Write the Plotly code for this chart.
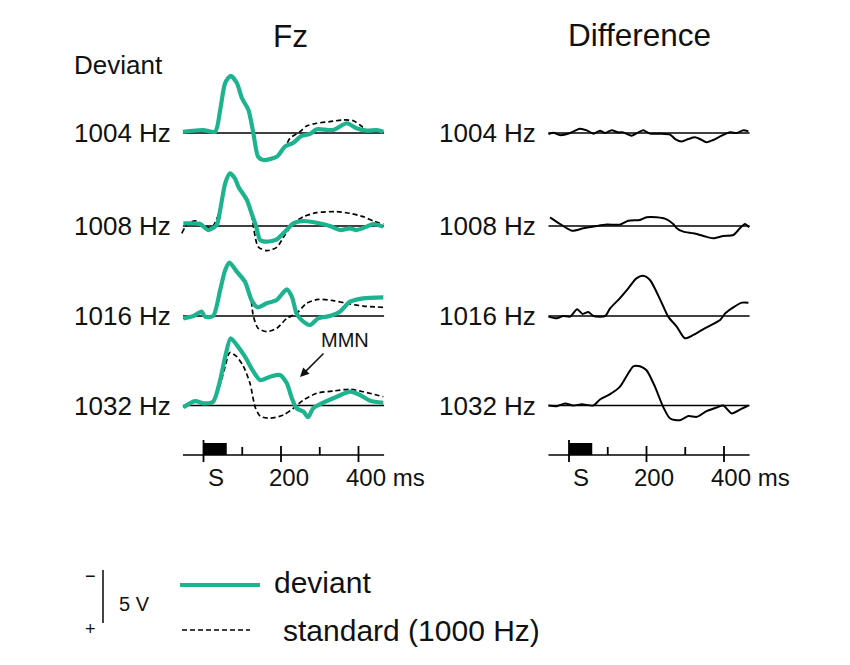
import plotly.graph_objects as go

PAGE_W, PAGE_H = 850, 665
BODY_MARGIN = 8
W, H = PAGE_W - 2 * BODY_MARGIN, PAGE_H - 2 * BODY_MARGIN
FONT = "Liberation Sans, Arial, sans-serif"
TEAL = "#1db38f"
DASH = "5px,3px"

# ---------------- data (µV, negative = up; time in ms) ----------------
ROW_LABELS = ["1004 Hz", "1008 Hz", "1016 Hz", "1032 Hz"]
TIME_TICKS = [0, 100, 200, 300, 400]
MAJOR_TICKS = [0, 200, 400]
STIM_DUR = 60

DEV_1004_T = [-53, -1, 30, 43, 56, 70, 86, 99, 116, 128, 141, 154, 189, 210, 231, 253, 275, 292, 334, 370, 395, 421, 447, 464]
DEV_1004_V = [-0.12, -0.28, -0.12, -2.17, -4.72, -5.38, -4.72, -3.3, -2.17, -0.12, 2.24, 2.55, 2.24, 1.29, 0.94, 0.28, 0.09, -0.35, -0.28, -0.92, -0.44, -0.22, -0.28, -0.12]
STD_1004_T = [-53, -1, 30, 43, 56, 70, 86, 99, 116, 128, 141, 154, 189, 210, 223, 249, 266, 292, 326, 361, 387, 404, 421, 447, 464]
STD_1004_V = [-0.12, -0.28, -0.12, -2.17, -4.72, -5.38, -4.72, -3.3, -2.17, -0.12, 2.3, 2.5, 2.2, 1.4, 0.5, -0.12, -0.66, -0.92, -1.07, -1.23, -1.16, -0.75, -0.28, -0.28, -0.12]

DEV_1008_T = [-52, -9, 12, 34, 43, 56, 68, 81, 90, 112, 124, 136, 146, 163, 189, 210, 232, 258, 292, 326, 352, 378, 395, 421, 438, 464]
DEV_1008_V = [-0.25, -0.19, 0.38, -0.09, -1.5, -4.03, -4.97, -4.5, -3.71, -2.45, -1.2, 0.06, 1.32, 1.48, 1.26, 0.54, -0.25, -0.47, -0.31, 0, 0.38, 0.22, 0.38, 0.06, -0.19, 0.06]
STD_1008_T = [-56, -39, -18, 0, 20, 43, 56, 68, 81, 90, 112, 124, 141, 163, 189, 210, 232, 258, 292, 344, 378, 412, 438, 464]
STD_1008_V = [0.69, -0.31, -0.47, -0.09, 0.2, -1.5, -4.03, -4.97, -4.5, -3.71, -2.45, -1.0, 1.95, 2.33, 2.01, 0.85, -0.25, -0.88, -1.26, -1.35, -1.2, -0.88, -0.47, -0.19]

DEV_1016_T = [-52, -26, -5, 4, 25, 43, 56, 67, 86, 107, 124, 139, 163, 189, 215, 228, 240, 253, 275, 296, 326, 352, 378, 412, 464]
DEV_1016_V = [0.22, 0, -0.41, 0.06, 0, -2.45, -4.34, -5.03, -4.18, -3.24, -1.51, -0.82, -1.2, -1.51, -2.52, -1.82, -0.25, 0.38, 0.85, 0.22, 0, -0.41, -1.35, -1.67, -1.76]
STD_1016_T = [-52, -26, -5, 4, 25, 43, 56, 67, 86, 107, 120, 129, 141, 163, 189, 215, 240, 266, 296, 335, 378, 412, 464]
STD_1016_V = [0.22, 0, -0.41, 0.06, 0, -2.45, -4.34, -5.03, -4.18, -3.24, -2.14, 0.06, 1.16, 1.48, 1.16, 0.22, -0.25, -1.2, -1.57, -1.45, -1.13, -0.94, -0.82]

DEV_1032_T = [-52, -22, 0, 25, 43, 56, 70, 86, 107, 129, 146, 172, 197, 215, 228, 240, 258, 270, 283, 309, 344, 378, 404, 430, 464]
DEV_1032_V = [0.17, -0.42, -0.2, -0.36, -2.4, -4.6, -6.34, -5.7, -4.6, -3.19, -2.4, -2.72, -2.88, -2.09, -0.68, 0.26, 0.58, 1.11, 0.26, -0.26, -0.83, -1.3, -0.99, -0.45, -0.26]
STD_1032_T = [-52, -22, 0, 25, 43, 56, 68, 86, 103, 120, 133, 146, 172, 206, 232, 258, 292, 335, 378, 412, 464]
STD_1032_V = [0.17, -0.42, -0.2, -0.36, -2.0, -3.7, -5.0, -4.6, -3.7, -2.09, 0.11, 1.0, 1.2, 0.9, 0.26, -0.52, -1.15, -1.37, -1.53, -1.3, -0.83]

DIF_1004_T = [-53, -40, -23, 3, 28, 46, 63, 80, 93, 110, 127, 140, 162, 179, 192, 209, 235, 261, 274, 291, 308, 325, 338, 355, 372, 394, 416, 433, 450, 463]
DIF_1004_V = [0.1, -0.03, 0.2, 0, -0.4, -0.25, 0.06, -0.22, 0, -0.25, -0.06, -0.06, 0.25, -0.06, -0.25, 0.06, 0.06, 0.15, 0.57, 0.8, 0.57, 0.4, 0.57, 0.88, 0.66, 0.25, -0.06, 0, -0.25, -0.15]
DIF_1008_T = [-49, -23, 7, 37, 71, 97, 131, 153, 183, 200, 226, 252, 269, 278, 295, 321, 347, 372, 398, 424, 441, 454, 465]
DIF_1008_V = [-0.82, -0.19, 0.44, 0.22, 0, -0.13, -0.13, -0.5, -0.57, -0.82, -0.82, -0.63, -0.19, 0.22, 0.53, 0.69, 0.94, 1.16, 0.94, 0.85, 0.22, -0.19, 0.13]
DIF_1016_T = [-53, -32, -15, 3, 21, 35, 50, 63, 93, 106, 131, 153, 174, 191, 209, 235, 256, 278, 299, 321, 355, 390, 403, 424, 446, 463]
DIF_1016_V = [0.06, 0.22, 0, 0.06, -0.63, -0.19, -0.38, 0, 0, -0.72, -1.67, -2.61, -3.55, -3.8, -3.4, -1.57, 0.06, 1.0, 2.1, 1.79, 1.07, 0.38, -0.25, -0.82, -1.26, -1.26]
DIF_1032_T = [-53, -32, -10, 11, 33, 63, 80, 106, 131, 150, 166, 183, 200, 222, 243, 261, 286, 308, 330, 355, 381, 398, 420, 441, 463]
DIF_1032_V = [0, 0.06, -0.19, 0, -0.12, 0, -0.57, -1.07, -1.76, -2.86, -3.7, -3.7, -3.33, -1.76, 0.13, 1.23, 1.39, 1.0, 1.07, 0.54, 0.19, 0, 0.75, 0.38, 0]

DEV_T = [DEV_1004_T, DEV_1008_T, DEV_1016_T, DEV_1032_T]
DEV_V = [DEV_1004_V, DEV_1008_V, DEV_1016_V, DEV_1032_V]
STD_T = [STD_1004_T, STD_1008_T, STD_1016_T, STD_1032_T]
STD_V = [STD_1004_V, STD_1008_V, STD_1016_V, STD_1032_V]
DIF_T = [DIF_1004_T, DIF_1008_T, DIF_1016_T, DIF_1032_T]
DIF_V = [DIF_1004_V, DIF_1008_V, DIF_1016_V, DIF_1032_V]

# ---------------- layout geometry (page pixels) ----------------
PX_PER_UV = 10.6
PX_PER_MS = 0.3875
LEFT_ZERO_PX, RIGHT_ZERO_PX = 203.5, 569
SPLIT_PX = 425
ROW_ZERO_PX = [133, 226, 316, 405.5]
AXIS_PX = 455
T_START, T_END = -53, 466


def uv(p):  # page pixel row -> value on the shared µV axis
    return (p - BODY_MARGIN) / PX_PER_UV


def px(x):  # page pixel column -> paper fraction
    return (x - BODY_MARGIN) / W


def py(y):
    return 1 - (y - BODY_MARGIN) / H


ROW_ZERO = [uv(p) for p in ROW_ZERO_PX]
AXIS_Y = uv(AXIS_PX)
SPLIT = px(SPLIT_PX)

fig = go.Figure()
shapes = []
annotations = []
smooth = dict(shape="spline", smoothing=0.7)

for i in range(4):
    z = ROW_ZERO[i]
    for xr in ("x", "x2"):
        shapes.append(dict(type="line", xref=xr, yref="y", x0=T_START, x1=T_END, y0=z, y1=z,
                           line=dict(color="black", width=1.5), layer="below"))
    fig.add_trace(go.Scatter(x=STD_T[i], y=[z + v for v in STD_V[i]], xaxis="x", yaxis="y", mode="lines",
                             line=dict(color="black", width=1.7, dash=DASH, **smooth), hoverinfo="skip"))
    fig.add_trace(go.Scatter(x=DEV_T[i], y=[z + v for v in DEV_V[i]], xaxis="x", yaxis="y", mode="lines",
                             line=dict(color=TEAL, width=4.2, **smooth), hoverinfo="skip"))
    fig.add_trace(go.Scatter(x=DIF_T[i], y=[z + v for v in DIF_V[i]], xaxis="x2", yaxis="y", mode="lines",
                             line=dict(color="black", width=2, **smooth), hoverinfo="skip"))
    for xr in ("x", "x2"):
        annotations.append(dict(xref=xr, yref="y", x=-80, y=z, text=ROW_LABELS[i], showarrow=False,
                                xanchor="right", yanchor="middle", font=dict(size=26, color="#111", family=FONT)))

# time axes
tick_font = dict(size=24, color="#111", family=FONT)
for xr in ("x", "x2"):
    shapes.append(dict(type="line", xref=xr, yref="y", x0=T_START, x1=T_END, y0=AXIS_Y, y1=AXIS_Y,
                       line=dict(color="black", width=1.6)))
    shapes.append(dict(type="rect", xref=xr, yref="y", x0=0, x1=STIM_DUR, y0=uv(443), y1=AXIS_Y,
                       fillcolor="black", line=dict(width=0)))
    for t in TIME_TICKS:
        if t == 0:
            y0, y1 = uv(440), uv(462)
        elif t in MAJOR_TICKS:
            y0, y1 = uv(446), uv(462)
        else:
            y0, y1 = uv(447), AXIS_Y
        shapes.append(dict(type="line", xref=xr, yref="y", x0=t, x1=t, y0=y0, y1=y1,
                           line=dict(color="black", width=1.8)))
    annotations.append(dict(xref=xr, yref="y", x=32, y=uv(477), text="S", showarrow=False,
                            xanchor="center", yanchor="middle", font=tick_font))
    annotations.append(dict(xref=xr, yref="y", x=220, y=uv(477), text="200", showarrow=False,
                            xanchor="center", yanchor="middle", font=tick_font))
    annotations.append(dict(xref=xr, yref="y", x=362, y=uv(477), text="400 ms", showarrow=False,
                            xanchor="left", yanchor="middle", font=tick_font))

# titles and MMN marker
annotations += [
    dict(xref="paper", yref="paper", x=px(290), y=py(36), text="Fz", showarrow=False,
         xanchor="center", yanchor="middle", font=dict(size=31.5, color="#111", family=FONT)),
    dict(xref="paper", yref="paper", x=px(639), y=py(35), text="Difference", showarrow=False,
         xanchor="center", yanchor="middle", font=dict(size=31.5, color="#111", family=FONT)),
    dict(xref="paper", yref="paper", x=px(72), y=py(65), text="Deviant", showarrow=False,
         xanchor="left", yanchor="middle", font=dict(size=26, color="#111", family=FONT)),
    dict(xref="paper", yref="paper", x=px(345), y=py(340), text="MMN", showarrow=False,
         xanchor="center", yanchor="middle", font=dict(size=20, color="#111", family=FONT)),
    dict(xref="paper", yref="paper", x=px(300), y=py(377), text="", showarrow=True, ax=25, ay=-25,
         arrowhead=2, arrowsize=1.2, arrowwidth=1.5, arrowcolor="#111", standoff=0, startstandoff=0),
]

# legend & scale bar
shapes += [
    dict(type="line", xref="paper", yref="y", x0=px(103), x1=px(103), y0=uv(570), y1=uv(570) + 5,
         line=dict(color="#444", width=2)),
    dict(type="line", xref="paper", yref="paper", x0=px(180), x1=px(260), y0=py(585), y1=py(585),
         line=dict(color=TEAL, width=4)),
    dict(type="line", xref="paper", yref="paper", x0=px(182), x1=px(250), y0=py(630), y1=py(630),
         line=dict(color="black", width=1.7, dash=DASH)),
]
annotations += [
    dict(xref="paper", yref="paper", x=px(90), y=py(576), text="−", showarrow=False,
         xanchor="center", yanchor="middle", font=dict(size=18, color="#111", family=FONT)),
    dict(xref="paper", yref="paper", x=px(90), y=py(629), text="+", showarrow=False,
         xanchor="center", yanchor="middle", font=dict(size=18, color="#111", family=FONT)),
    dict(xref="paper", yref="paper", x=px(117), y=py(604), text="5 V", showarrow=False,
         xanchor="left", yanchor="middle", font=dict(size=20, color="#111", family=FONT)),
    dict(xref="paper", yref="paper", x=px(272), y=py(582), text="deviant", showarrow=False,
         xanchor="left", yanchor="middle", font=dict(size=30, color="#111", family=FONT)),
    dict(xref="paper", yref="paper", x=px(281), y=py(630), text="standard (1000 Hz)", showarrow=False,
         xanchor="left", yanchor="middle", font=dict(size=30, color="#111", family=FONT)),
]

fig.update_layout(
    width=W, height=H, margin=dict(l=0, r=0, t=0, b=0),
    paper_bgcolor="white", plot_bgcolor="white", showlegend=False,
    xaxis=dict(domain=[0, SPLIT],
               range=[(BODY_MARGIN - LEFT_ZERO_PX) / PX_PER_MS, (SPLIT_PX - LEFT_ZERO_PX) / PX_PER_MS],
               visible=False, anchor="y"),
    xaxis2=dict(domain=[SPLIT, 1],
                range=[(SPLIT_PX - RIGHT_ZERO_PX) / PX_PER_MS, (BODY_MARGIN + W - RIGHT_ZERO_PX) / PX_PER_MS],
                visible=False, anchor="y"),
    yaxis=dict(domain=[0, 1], range=[uv(BODY_MARGIN + H), uv(BODY_MARGIN)], visible=False),
    shapes=shapes, annotations=annotations,
)

fig.write_html("out.html")
